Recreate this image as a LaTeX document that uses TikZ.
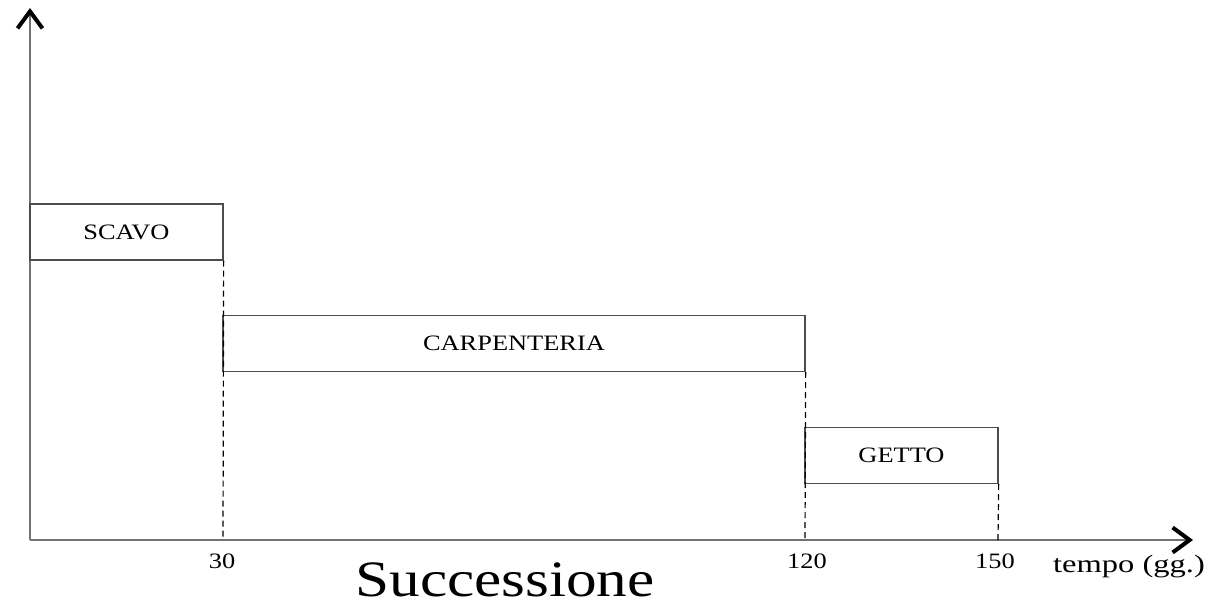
\documentclass[tikz,border=0pt]{standalone}
\usepackage{fontspec}
\setmainfont{Liberation Serif}
\usetikzlibrary{arrows.meta}
\tikzset{
  axis/.style={draw=black!55, line width=1.4pt},
  chev/.style={-{Straight Barb[length=17pt,width=25pt,line width=4pt,color=black]}},
  task/.style={draw=black!70, line width=1.3pt, minimum height=56pt, inner sep=0pt,
    font=\fontsize{22}{22}\selectfont},
  guide/.style={draw=black, line width=1.2pt, dash pattern=on 6pt off 4pt},
  tick/.style={anchor=base, inner sep=0pt, font=\fontsize{22}{22}\selectfont},
}
\newcommand{\xs}[1]{\scalebox{1.2}[1]{#1}}
\begin{document}
\begin{tikzpicture}[x=1pt,y=-1pt]
\useasboundingbox (0,0) rectangle (1217,612);
\coordinate (O) at (30,540);
\coordinate (Ytop) at (30,8);
\coordinate (Xend) at (1193,540);
\coordinate (t30) at (223,540);
\coordinate (t120) at (805,540);
\coordinate (t150) at (998,540);
\draw[axis,chev] (O) -- (Ytop);
\draw[axis,chev] (O) -- (Xend);
\node[task, minimum width=193pt] (scavo) at (126.5,232) {\xs{SCAVO}};
\node[task, minimum width=582pt] (carp) at (514,343.5) {\xs{CARPENTERIA}};
\node[task, minimum width=193pt] (getto) at (901.5,455.5) {\xs{GETTO}};
\draw[guide] (scavo.south east) -- (t30);
\draw[guide] (carp.south east) -- (t120);
\draw[guide] (getto.south east) -- (t150);
\node[tick] (l30) at (222,568) {\xs{30}};
\node[tick] (l120) at (807,568) {\xs{120}};
\node[tick] (l150) at (995,568) {\xs{150}};
\node[tick, font=\fontsize{25}{25}\selectfont] (tempo) at (1129,572) {\scalebox{1.3}[1]{tempo (gg.)}};
\node[anchor=base, inner sep=0pt, font=\fontsize{51}{51}\selectfont] (title) at (505,596) {\xs{Successione}};
\end{tikzpicture}
\end{document}
